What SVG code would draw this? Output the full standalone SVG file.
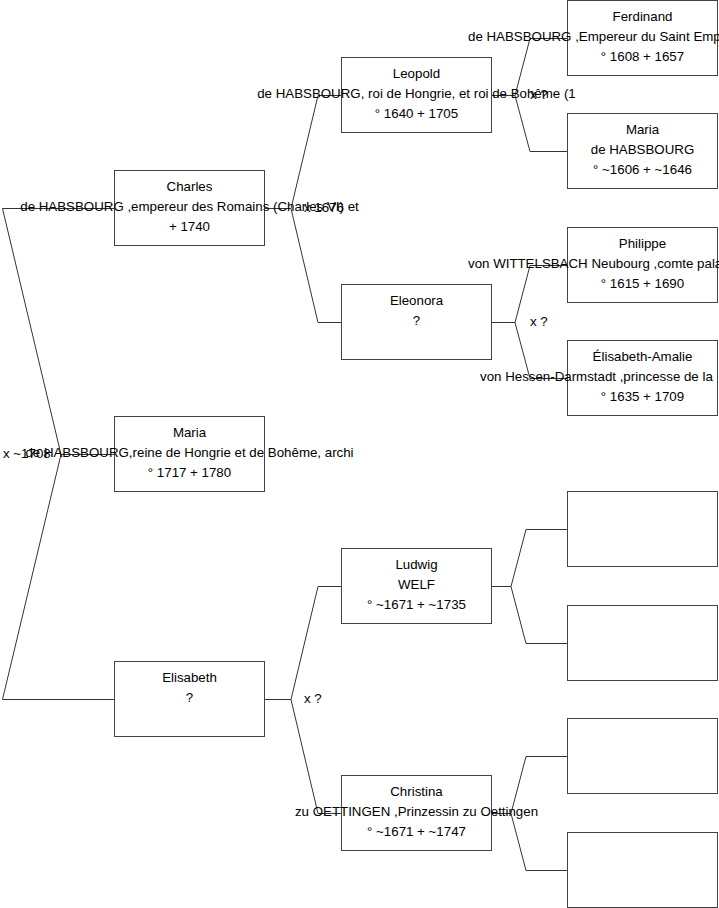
<svg xmlns="http://www.w3.org/2000/svg" width="719" height="908" viewBox="0 0 719 908">
<style>
.box{fill:#fff;stroke:#444;stroke-width:1}
.c{fill:none;stroke:#333;stroke-width:1}
text{font-family:"Liberation Sans",Arial,sans-serif;font-size:13.3px;fill:#000}
.m{text-anchor:middle}
</style>
<rect width="719" height="908" fill="#fff"/>
<g id="connectors">
<path class="c" d="M114 208.5H2.5L61 454.5L2.5 699.5H114M61 454.5H114"/>
<path class="c" d="M265 208.5H291L318 95.5H341M291 208.5L318 322.5H341"/>
<path class="c" d="M492 95.5H515L530 38.5H567M515 95.5L530 151.5H567"/>
<path class="c" d="M492 322.5H515L530 265.5H567M515 322.5L530 378.5H567"/>
<path class="c" d="M265 699.5H291L318 586.5H341M291 699.5L318 813.5H341"/>
<path class="c" d="M492 586.5H511L526 529.5H567M511 586.5L526 643.5H567"/>
<path class="c" d="M492 813.5H511L526 756.5H567M511 813.5L526 870.5H567"/>
</g>
<g id="labels">
<text x="3" y="458">x ~1708</text>
<text x="304" y="212">x 1676</text>
<text x="530" y="99">x ?</text>
<text x="530" y="326">x ?</text>
<text x="304" y="703">x ?</text>
</g>
<g id="charles"><rect class="box" x="114.5" y="170.5" width="150" height="75"/>
<text class="m" x="189.5" y="191">Charles</text><text class="m" x="189.5" y="211">de HABSBOURG ,empereur des Romains (Charles VI) et</text><text class="m" x="189.5" y="231">+ 1740</text></g>
<g id="maria"><rect class="box" x="114.5" y="416.5" width="150" height="75"/>
<text class="m" x="189.5" y="437">Maria</text><text class="m" x="189.5" y="457">de HABSBOURG,reine de Hongrie et de Bohême, archi</text><text class="m" x="189.5" y="477">° 1717 + 1780</text></g>
<g id="elisabeth"><rect class="box" x="114.5" y="661.5" width="150" height="75"/>
<text class="m" x="189.5" y="682">Elisabeth</text><text class="m" x="189.5" y="702">?</text></g>
<g id="leopold"><rect class="box" x="341.5" y="57.5" width="150" height="75"/>
<text class="m" x="416.5" y="78">Leopold</text><text class="m" x="416.5" y="98">de HABSBOURG, roi de Hongrie, et roi de Bohême (1</text><text class="m" x="416.5" y="118">° 1640 + 1705</text></g>
<g id="eleonora"><rect class="box" x="341.5" y="284.5" width="150" height="75"/>
<text class="m" x="416.5" y="305">Eleonora</text><text class="m" x="416.5" y="325">?</text></g>
<g id="ludwig"><rect class="box" x="341.5" y="548.5" width="150" height="75"/>
<text class="m" x="416.5" y="569">Ludwig</text><text class="m" x="416.5" y="589">WELF</text><text class="m" x="416.5" y="609">° ~1671 + ~1735</text></g>
<g id="christina"><rect class="box" x="341.5" y="775.5" width="150" height="75"/>
<text class="m" x="416.5" y="796">Christina</text><text class="m" x="416.5" y="816">zu OETTINGEN ,Prinzessin zu Oettingen</text><text class="m" x="416.5" y="836">° ~1671 + ~1747</text></g>
<g id="ferdinand"><rect class="box" x="567.5" y="0.5" width="150" height="75"/>
<text class="m" x="642.5" y="21">Ferdinand</text><text x="468" y="41">de HABSBOURG ,Empereur du Saint Emp</text><text class="m" x="642.5" y="61">° 1608 + 1657</text></g>
<g id="maria-habsbourg"><rect class="box" x="567.5" y="113.5" width="150" height="75"/>
<text class="m" x="642.5" y="134">Maria</text><text class="m" x="642.5" y="154">de HABSBOURG</text><text class="m" x="642.5" y="174">° ~1606 + ~1646</text></g>
<g id="philippe"><rect class="box" x="567.5" y="227.5" width="150" height="75"/>
<text class="m" x="642.5" y="248">Philippe</text><text x="468" y="268">von WITTELSBACH Neubourg ,comte pala</text><text class="m" x="642.5" y="288">° 1615 + 1690</text></g>
<g id="elisabeth-amalie"><rect class="box" x="567.5" y="340.5" width="150" height="75"/>
<text class="m" x="642.5" y="361">Élisabeth-Amalie</text><text x="480" y="381">von Hessen-Darmstadt ,princesse de la</text><text class="m" x="642.5" y="401">° 1635 + 1709</text></g>
<g id="empty1"><rect class="box" x="567.5" y="491.5" width="150" height="75"/></g>
<g id="empty2"><rect class="box" x="567.5" y="605.5" width="150" height="75"/></g>
<g id="empty3"><rect class="box" x="567.5" y="718.5" width="150" height="75"/></g>
<g id="empty4"><rect class="box" x="567.5" y="832.5" width="150" height="75"/></g>
</svg>
